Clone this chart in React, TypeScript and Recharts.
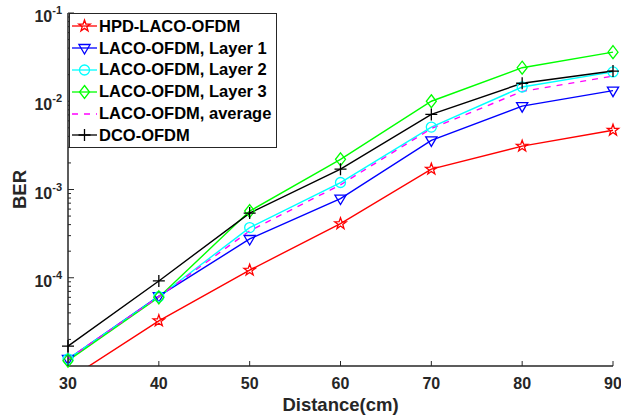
import { LineChart, Line, XAxis, YAxis, Legend } from "recharts";

// BER vs distance
const distance = [30, 40, 50, 60, 70, 80, 90];
const hpdLaco = [7.0e-6, 3.25e-5, 1.22e-4, 4.1e-4, 1.7e-3, 3.1e-3, 4.7e-3];
const lacoLayer1 = [1.2e-5, 6.2e-5, 2.75e-4, 7.9e-4, 3.6e-3, 8.8e-3, 1.32e-2];
const lacoLayer2 = [1.2e-5, 6.1e-5, 3.7e-4, 1.2e-3, 5.1e-3, 1.45e-2, 2.15e-2];
const lacoLayer3 = [1.15e-5, 6.0e-5, 5.7e-4, 2.2e-3, 1.0e-2, 2.4e-2, 3.6e-2];
const lacoAverage = [1.2e-5, 6.1e-5, 3.4e-4, 1.13e-3, 4.9e-3, 1.29e-2, 1.93e-2];
const dcoOfdm = [1.68e-5, 9.2e-5, 5.4e-4, 1.7e-3, 7.1e-3, 1.6e-2, 2.2e-2];

const xTicks = [30, 40, 50, 60, 70, 80, 90];
const decades = [1e-5, 1e-4, 1e-3, 1e-2];
const mantissas = [1, 2, 3, 4, 5, 6, 7, 8, 9];
const yTicks = decades
  .flatMap((d) => mantissas.map((m) => m * d))
  .concat([1e-1])
  .filter((v) => v > 1e-5);

const FONT = '"Liberation Sans", Arial, Helvetica, sans-serif';
const INK = "#262626";

const rows = distance.map((d, i) => ({
  distance: d,
  hpd: hpdLaco[i],
  l1: lacoLayer1[i],
  l2: lacoLayer2[i],
  l3: lacoLayer3[i],
  avg: lacoAverage[i],
  dco: dcoOfdm[i],
}));

type MarkerKind = "star" | "triV" | "circle" | "diamond" | "plus" | null;

interface SeriesConfig {
  key: string;
  name: string;
  color: string;
  marker: MarkerKind;
  dash?: string;
  axis: string;
}

const series: SeriesConfig[] = [
  { key: "hpd", name: "HPD-LACO-OFDM", color: "#ff0000", marker: "star", axis: "right" },
  { key: "l1", name: "LACO-OFDM, Layer 1", color: "#0000ff", marker: "triV", axis: "left" },
  { key: "l2", name: "LACO-OFDM, Layer 2", color: "#00ffff", marker: "circle", axis: "left" },
  { key: "l3", name: "LACO-OFDM, Layer 3", color: "#00ff00", marker: "diamond", axis: "left" },
  { key: "avg", name: "LACO-OFDM, average", color: "#ff00ff", marker: null, dash: "6 6", axis: "left" },
  { key: "dco", name: "DCO-OFDM", color: "#000000", marker: "plus", axis: "left" },
];

function Marker({ kind, cx, cy, color }: { kind: MarkerKind; cx: number; cy: number; color: string }) {
  if (cx == null || cy == null || !isFinite(cx) || !isFinite(cy)) return null;
  const common = { fill: "none", stroke: color, strokeWidth: 1.3 };
  switch (kind) {
    case "star": {
      const pts: string[] = [];
      for (let k = 0; k < 10; k++) {
        const r = k % 2 === 0 ? 6 : 2.4;
        const a = -Math.PI / 2 + (k * Math.PI) / 5;
        pts.push(`${cx + r * Math.cos(a)},${cy + r * Math.sin(a)}`);
      }
      return <polygon points={pts.join(" ")} {...common} />;
    }
    case "triV":
      return (
        <polygon
          points={`${cx - 5.6},${cy - 3.5} ${cx + 5.6},${cy - 3.5} ${cx},${cy + 6}`}
          {...common}
        />
      );
    case "circle":
      return <circle cx={cx} cy={cy} r={5} {...common} />;
    case "diamond":
      return (
        <polygon
          points={`${cx},${cy - 6.5} ${cx + 5},${cy} ${cx},${cy + 6.5} ${cx - 5},${cy}`}
          {...common}
        />
      );
    case "plus":
      return (
        <path d={`M${cx - 6},${cy}H${cx + 6}M${cx},${cy - 6}V${cy + 6}`} {...common} />
      );
    default:
      return null;
  }
}

const isMajor = (v: number) => {
  const e = Math.log10(v);
  return Math.abs(e - Math.round(e)) < 1e-6;
};

// eslint-disable-next-line @typescript-eslint/no-explicit-any
function BottomTick({ x, y, payload }: any) {
  return (
    <g>
      <line x1={x} y1={y} x2={x} y2={y - 5} stroke={INK} strokeWidth={1} />
      <text x={x} y={y + 23} textAnchor="middle" fill={INK} fontSize={16} fontWeight="bold" fontFamily={FONT}>
        {payload.value}
      </text>
    </g>
  );
}

// eslint-disable-next-line @typescript-eslint/no-explicit-any
function TopTick({ x, y }: any) {
  return <line x1={x} y1={y} x2={x} y2={y + 5} stroke={INK} strokeWidth={1} />;
}

// eslint-disable-next-line @typescript-eslint/no-explicit-any
function LeftTick({ x, y, payload }: any) {
  const v = payload.value as number;
  const major = isMajor(v);
  return (
    <g>
      <line x1={x} y1={y} x2={x + (major ? 6 : 3)} y2={y} stroke={INK} strokeWidth={1} />
      {major && (
        <text x={x - 6} y={y + 9} textAnchor="end" fill={INK} fontSize={16} fontWeight="bold" fontFamily={FONT}>
          10
          <tspan dy={-8} fontSize={11}>
            {Math.round(Math.log10(v))}
          </tspan>
        </text>
      )}
    </g>
  );
}

// eslint-disable-next-line @typescript-eslint/no-explicit-any
function RightTick({ x, y, payload }: any) {
  const major = isMajor(payload.value as number);
  return <line x1={x} y1={y} x2={x - (major ? 6 : 3)} y2={y} stroke={INK} strokeWidth={1} />;
}

function LegendBox() {
  return (
    <div
      style={{
        boxSizing: "border-box",
        width: 208,
        height: 135,
        border: `1.5px solid ${INK}`,
        background: "#fff",
        paddingTop: 1.5,
        fontFamily: FONT,
        fontWeight: "bold",
        fontSize: 16.5,
        color: "#000",
      }}
    >
      {series.map((s) => (
        <div key={s.key} style={{ display: "flex", alignItems: "center", height: 21.8, whiteSpace: "nowrap" }}>
          <svg width={29} height={20} style={{ flex: "none" }}>
            <line x1={2} y1={10} x2={27} y2={10} stroke={s.color} strokeWidth={1.3} strokeDasharray={s.dash} />
            {s.marker && <Marker kind={s.marker} cx={14.5} cy={10} color={s.color} />}
          </svg>
          <span>{s.name}</span>
        </div>
      ))}
    </div>
  );
}

export default function App() {
  return (
    <div style={{ position: "absolute", left: 0, top: 0, background: "#fff" }}>
      <LineChart width={621} height={418} data={rows} margin={{ top: 13, right: 8, bottom: 0, left: 0 }}>
        <XAxis
          dataKey="distance"
          type="number"
          domain={[30, 90]}
          ticks={xTicks}
          height={52}
          tickSize={0}
          tickMargin={0}
          tickLine={false}
          tick={<BottomTick />}
          axisLine={{ stroke: INK, strokeWidth: 1.5 }}
          label={{
            // eslint-disable-next-line @typescript-eslint/no-explicit-any
            content: ({ viewBox }: any) => (
              <text
                x={viewBox.x + viewBox.width / 2}
                y={viewBox.y + viewBox.height - 7}
                textAnchor="middle"
                fill={INK}
                fontSize={18.5}
                fontWeight="bold"
                fontFamily={FONT}
              >
                Distance(cm)
              </text>
            ),
          }}
        />
        <XAxis
          xAxisId="top"
          orientation="top"
          type="number"
          domain={[30, 90]}
          ticks={xTicks}
          height={0}
          tickSize={0}
          tickMargin={0}
          tickLine={false}
          tick={<TopTick />}
          axisLine={{ stroke: INK, strokeWidth: 1.5 }}
          allowDataOverflow
        />
        <YAxis
          yAxisId="left"
          scale="log"
          type="number"
          domain={[1e-5, 1e-1]}
          ticks={yTicks}
          width={68}
          tickSize={0}
          tickMargin={0}
          tickLine={false}
          tick={<LeftTick />}
          interval={0}
          axisLine={{ stroke: INK, strokeWidth: 1.5 }}
          label={{
            // eslint-disable-next-line @typescript-eslint/no-explicit-any
            content: ({ viewBox }: any) => {
              const cx = viewBox.x + 25.5;
              const cy = viewBox.y + viewBox.height / 2;
              return (
                <text
                  x={cx}
                  y={cy}
                  transform={`rotate(-90 ${cx} ${cy})`}
                  textAnchor="middle"
                  fill={INK}
                  fontSize={18.5}
                  fontWeight="bold"
                  fontFamily={FONT}
                >
                  BER
                </text>
              );
            },
          }}
        />
        <YAxis
          yAxisId="right"
          orientation="right"
          scale="log"
          type="number"
          domain={[1e-5, 1e-1]}
          ticks={yTicks}
          width={0}
          tickSize={0}
          tickMargin={0}
          tickLine={false}
          tick={<RightTick />}
          interval={0}
          axisLine={{ stroke: INK, strokeWidth: 1.5 }}
          allowDataOverflow
        />
        <Legend
          layout="vertical"
          align="center"
          verticalAlign="middle"
          wrapperStyle={{ left: 69, top: 13, width: 208 }}
          content={() => <LegendBox />}
        />
        {series.map((s) => (
          <Line
            key={s.key}
            yAxisId={s.axis}
            dataKey={s.key}
            name={s.name}
            type="linear"
            stroke={s.color}
            strokeWidth={1.4}
            strokeDasharray={s.dash}
            // eslint-disable-next-line @typescript-eslint/no-explicit-any
            dot={s.marker ? (p: any) => <Marker key={`${s.key}-${p.index}`} kind={s.marker} cx={p.cx} cy={p.cy} color={s.color} /> : false}
            activeDot={false}
            isAnimationActive={false}
          />
        ))}
      </LineChart>
    </div>
  );
}
